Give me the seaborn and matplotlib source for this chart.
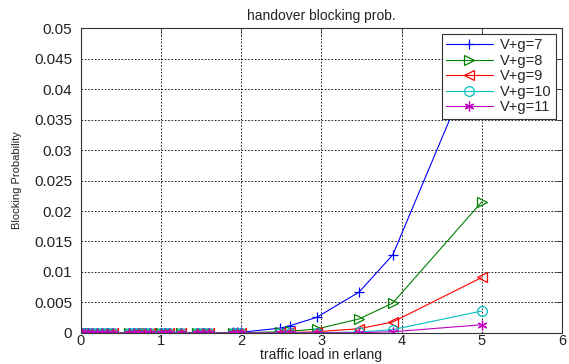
import matplotlib
matplotlib.use("Agg")
import matplotlib.pyplot as plt
import seaborn as sns
import numpy as np

# Offered traffic (erlang) at which the blocking probability was evaluated
traffic_load = [0.0, 0.02, 0.05, 0.09, 0.14, 0.2, 0.26, 0.33, 0.4,
                0.6, 0.66, 0.72, 0.8, 0.86, 1.0, 1.05, 1.1, 1.25,
                1.45, 1.52, 1.6, 1.9, 1.95, 2.0, 2.49, 2.61, 2.94,
                3.47, 3.89, 5.0]

# Handover blocking probability for each total channel count V+g
p_vg7 = [0, 0, 0, 0, 0, 0, 0, 0, 0,
         0, 0, 0, 0, 0, 0.00001, 0.00001, 0.00001, 0.00002,
         0.00003, 0.00004, 0.00005, 0.00009, 0.0001, 0.00012, 0.0008, 0.0012, 0.00255,
         0.0067, 0.0128, 0.0475]
p_vg8 = [0, 0, 0, 0, 0, 0, 0, 0, 0,
         0, 0, 0, 0, 0, 0, 0, 0, 0,
         0.00001, 0.00001, 0.00001, 0.00002, 0.00002, 0.00003, 0.0002, 0.0003, 0.00065,
         0.0023, 0.0049, 0.0215]
p_vg9 = [0, 0, 0, 0, 0, 0, 0, 0, 0,
         0, 0, 0, 0, 0, 0, 0, 0, 0,
         0, 0, 0, 0, 0, 0.00001, 0.00005, 0.00008, 0.0002,
         0.0007, 0.0018, 0.0091]
p_vg10 = [0, 0, 0, 0, 0, 0, 0, 0, 0,
          0, 0, 0, 0, 0, 0, 0, 0, 0,
          0, 0, 0, 0, 0, 0, 0.00001, 0.00002, 0.00004,
          0.00015, 0.00055, 0.0036]
p_vg11 = [0, 0, 0, 0, 0, 0, 0, 0, 0,
          0, 0, 0, 0, 0, 0, 0, 0, 0,
          0, 0, 0, 0, 0, 0, 0, 0, 0.00001,
          0.00004, 0.0002, 0.00135]

series_labels = ["V+g=7", "V+g=8", "V+g=9", "V+g=10", "V+g=11"]
series_values = [p_vg7, p_vg8, p_vg9, p_vg10, p_vg11]
series_colors = ["#0000ff", "#008000", "#ff0000", "#00bfbf", "#bf00bf"]
# '+', right/left triangles, circle and a six-armed asterisk
series_markers = ["+", ">", "<", "o", (6, 2, 0)]

x_ticks = [0, 1, 2, 3, 4, 5, 6]
y_ticks = [0, 0.005, 0.01, 0.015, 0.02, 0.025, 0.03, 0.035, 0.04, 0.045, 0.05]
y_tick_labels = ["0", "0.005", "0.01", "0.015", "0.02", "0.025", "0.03",
                 "0.035", "0.04", "0.045", "0.05"]

sns.set_theme(style="white")
plt.rcParams["font.family"] = ["Liberation Sans", "DejaVu Sans"]
plt.rcParams["xtick.direction"] = "in"
plt.rcParams["ytick.direction"] = "in"

fig = plt.figure(figsize=(5.69, 3.64), dpi=100)
ax = fig.add_axes([0.1418, 0.0852, 0.8459, 0.8378])

for label, values, color, marker in zip(series_labels, series_values,
                                        series_colors, series_markers):
    sns.lineplot(x=traffic_load, y=values, ax=ax, color=color, marker=marker,
                 markersize=7, mfc="none", mec=color,
                 mew=0.9, linewidth=0.8, label=label)

ax.set_xlim(0, 6)
ax.set_ylim(0, 0.05)
ax.set_xticks(x_ticks)
ax.set_xticklabels([str(t) for t in x_ticks])
ax.set_yticks(y_ticks)
ax.set_yticklabels(y_tick_labels)
ax.tick_params(axis="both", length=4, width=0.6, color="#333333",
               top=True, right=True, labelcolor="#222222")
ax.tick_params(axis="y", pad=6, labelsize=11)
ax.tick_params(axis="x", pad=1, labelsize=10.5)
ax.grid(True, color="black", linestyle=(0, (2, 2)), linewidth=0.6)
for spine in ax.spines.values():
    spine.set_color("#333333")
    spine.set_linewidth(0.8)

ax.set_title("handover blocking prob.", fontsize=10, color="#222222", pad=6)
ax.set_xlabel("traffic load in erlang", fontsize=10, color="#222222", labelpad=0)
ax.set_ylabel("Blocking Probability", fontsize=8, color="#222222", labelpad=9)

leg = ax.legend(loc="upper right", bbox_to_anchor=(556 / 569, 1 - 34 / 364),
                bbox_transform=fig.transFigure, fontsize=10.5, frameon=True,
                fancybox=False, framealpha=1, edgecolor="#333333",
                handlelength=3.2, borderpad=0.3, labelspacing=0.1,
                handletextpad=0.5, borderaxespad=0)
leg.get_frame().set_linewidth(0.8)

fig.savefig("out.png", dpi=100, facecolor="white")
